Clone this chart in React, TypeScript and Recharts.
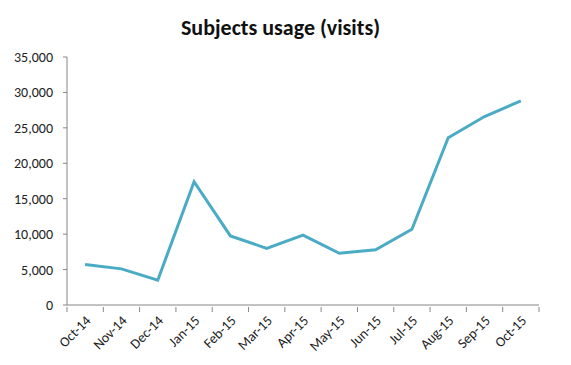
import { LineChart, Line, XAxis, YAxis } from "recharts";

const months = [
  "Oct-14", "Nov-14", "Dec-14", "Jan-15", "Feb-15", "Mar-15", "Apr-15",
  "May-15", "Jun-15", "Jul-15", "Aug-15", "Sep-15", "Oct-15",
];
const visits = [
  5700, 5100, 3500, 17400, 9750, 8000, 9850, 7300, 7800, 10700, 23600, 26600, 28800,
];
const yTicks = [0, 5000, 10000, 15000, 20000, 25000, 30000, 35000];

const data = months.map((month, i) => ({ month, visits: visits[i] }));

const W = 571;
const H = 365;
const MARGIN = { top: 57, right: 32, bottom: 4, left: 8 };
const Y_AXIS_W = 59;
const BAND = (W - MARGIN.left - MARGIN.right - Y_AXIS_W) / months.length;
const AXIS_COLOR = "#868686";
const FONT = "Carlito, Lato, sans-serif";

// Excel puts category tick marks between categories, not under the points
function MonthTick(props: any) {
  const { x, y, payload, index } = props;
  const half = BAND / 2;
  return (
    <g>
      <line x1={x - half} y1={y - 8} x2={x - half} y2={y - 3} stroke={AXIS_COLOR} />
      {index === months.length - 1 && (
        <line x1={x + half} y1={y - 8} x2={x + half} y2={y - 3} stroke={AXIS_COLOR} />
      )}
      <text
        x={x + 4}
        y={y + 4}
        transform={`rotate(-45, ${x + 4}, ${y + 4})`}
        textAnchor="end"
        dominantBaseline="middle"
        fontSize={14}
        fontFamily={FONT}
        fill="#222"
      >
        {payload.value}
      </text>
    </g>
  );
}

export default function App() {
  return (
    <div style={{ position: "absolute", left: 0, top: 0, width: W, height: H, background: "#fff" }}>
      <div
        style={{
          position: "absolute",
          top: 14,
          left: 0,
          width: W - 10,
          textAlign: "center",
          fontFamily: FONT,
          fontWeight: 700,
          fontSize: 22,
          color: "#111",
        }}
      >
        Subjects usage (visits)
      </div>
      <LineChart width={W} height={H} data={data} margin={MARGIN}>
        <XAxis
          dataKey="month"
          interval={0}
          height={56}
          padding={{ left: BAND / 2, right: BAND / 2 }}
          axisLine={{ stroke: AXIS_COLOR }}
          tickLine={false}
          tickSize={8}
          tick={<MonthTick />}
        />
        <YAxis
          width={Y_AXIS_W}
          domain={[0, 35000]}
          ticks={yTicks}
          interval={0}
          tickFormatter={(v: number) => v.toLocaleString("en-US")}
          axisLine={{ stroke: AXIS_COLOR }}
          tickLine={{ stroke: AXIS_COLOR }}
          tickSize={4}
          tickMargin={10}
          tick={{ fontSize: 14, fontFamily: FONT, fill: "#222" }}
        />
        <Line
          type="linear"
          dataKey="visits"
          stroke="#4aabc5"
          strokeWidth={3}
          dot={false}
          isAnimationActive={false}
        />
      </LineChart>
    </div>
  );
}
